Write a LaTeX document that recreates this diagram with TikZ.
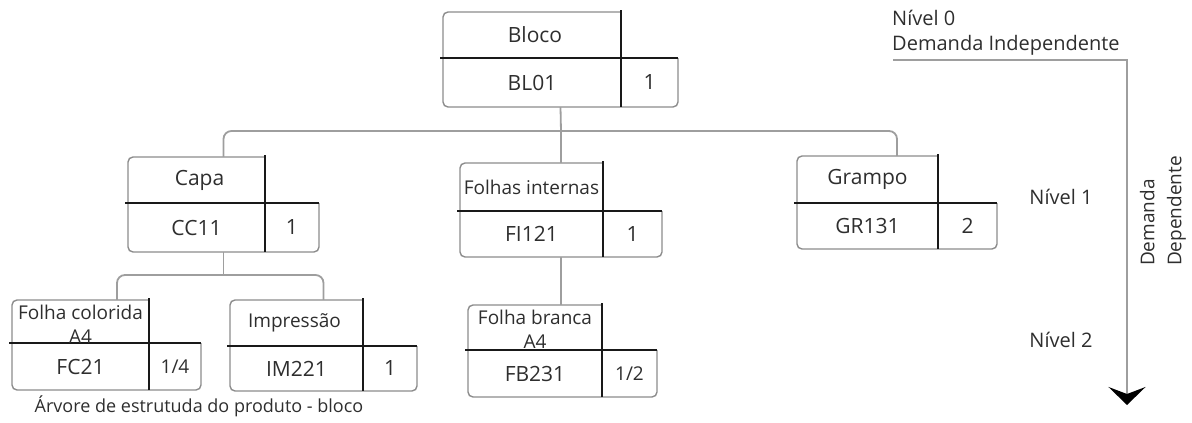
\documentclass[tikz,border=0pt]{standalone}
\usepackage{fontspec}
\setmainfont{Open Sans}
\usetikzlibrary{arrows.meta}

\tikzset{
  outline/.style={draw=black!45, line width=1.4pt, rounded corners=5pt},
  divider/.style={draw=black!90, line width=1.2pt},
  link/.style={draw=black!38, line width=1.8pt, rounded corners=8pt},
  txt/.style={font=\fontsize{21}{25}\selectfont, inner sep=0pt, text=black!82, align=center},
  longtxt/.style={txt, font=\fontsize{19}{24}\selectfont},
  sidetxt/.style={txt, font=\fontsize{20}{27}\selectfont},
}

% One item of the product tree: a rounded frame whose left column holds
% the description (top) and the code (bottom); the quantity cell sits at
% the bottom right.  Arguments: name, x0, y0, x of the divider, y of the
% divider, x1, y1.
\newcommand\bomframe[7]{%
  \path[outline] (#4,#3) -- (#2,#3) -- (#2,#7) -- (#6,#7) -- (#6,#5);
  \draw[divider] (#4,#3-2) -- (#4,#7);
  \draw[divider] (#2-3,#5) -- (#6,#5);
  \node[inner sep=0pt, minimum width={(#6-#2)*1pt}, minimum height={(#7-#3)*1pt}]
    (#1) at ({(#2+#6)/2},{(#3+#7)/2}) {};
  \coordinate (#1-l) at ({(#2+#4)/2},{(#3+#5)/2});
  \coordinate (#1-c) at ({(#2+#4)/2},{(#5+#7)/2});
  \coordinate (#1-q) at ({(#4+#6)/2},{(#5+#7)/2});
}

\begin{document}
\begin{tikzpicture}[x=1pt, y=-1pt]
  \useasboundingbox (0,0) rectangle (1192,423);

  % level 0
  \bomframe{bl}{443}{12}{621}{58}{678}{107}
  \node[txt] (bl-label) at ([xshift=3pt]bl-l) {Bloco};
  \node[txt] (bl-code)  at (bl-c) {BL01};
  \node[txt] (bl-qty)   at (bl-q) {1};

  % level 1
  \bomframe{cc}{128}{157}{265}{203}{319}{252}
  \node[txt] (cc-label) at ([xshift=3pt]cc-l) {Capa};
  \node[txt] (cc-code)  at (cc-c) {CC11};
  \node[txt] (cc-qty)   at (cc-q) {1};

  \bomframe{fi}{460}{163}{603}{211}{662}{257}
  \node[longtxt] (fi-label) at (fi-l) {Folhas internas};
  \node[txt] (fi-code)  at (fi-c) {FI121};
  \node[txt] (fi-qty)   at (fi-q) {1};

  \bomframe{gr}{797}{156}{938}{203}{997}{249}
  \node[txt] (gr-label) at (gr-l) {Grampo};
  \node[txt] (gr-code)  at (gr-c) {GR131};
  \node[txt] (gr-qty)   at (gr-q) {2};

  % level 2
  \bomframe{fc}{12}{300}{149}{343}{201}{390}
  \node[longtxt] (fc-label) at ([yshift=-3pt]fc-l) {Folha colorida\\A4};
  \node[txt] (fc-code)  at (fc-c) {FC21};
  \node[longtxt] (fc-qty)   at (fc-q) {1/4};

  \bomframe{im}{230}{300}{363}{346}{417}{391}
  \node[longtxt] (im-label) at ([xshift=-2pt]im-l) {Impressão};
  \node[txt] (im-code)  at (im-c) {IM221};
  \node[txt] (im-qty)   at (im-q) {1};

  \bomframe{fb}{468}{305}{602}{350}{657}{397}
  \node[longtxt] (fb-label) at ([yshift=-2pt]fb-l) {Folha branca\\A4};
  \node[txt] (fb-code)  at (fb-c) {FB231};
  \node[longtxt] (fb-qty)   at (fb-q) {1/2};

  % tree links
  \coordinate (bus1) at (561,131);
  \coordinate (bus2) at (223,275);
  \draw[link] (bl.south) -- (bus1) -- (fi.north);
  \draw[link] (cc.north) -- (cc.north |- bus1) -- (gr.north |- bus1) -- (gr.north);
  \draw[link] (cc.south) -- (cc.south |- bus2);
  \draw[link] ([xshift=10.5pt]fc.north) -- ([xshift=10.5pt]fc.north |- bus2)
              -- (im.north |- bus2) -- (im.north);
  \draw[link] (fi.south) -- (fb.north -| fi.south);

  % caption
  \node[txt, font=\fontsize{18}{22}\selectfont] (caption) at (199,406)
    {Árvore de estrutuda do produto - bloco};

  % levels and demand axis
  \node[sidetxt, anchor=west] (lvl0) at (892,18) {Nível 0};
  \node[sidetxt, anchor=west] (dem0) at (892,45) {Demanda Independente};
  \node[sidetxt] (lvl1) at (1061,197) {Nível 1};
  \node[sidetxt] (lvl2) at (1061,340) {Nível 2};
  \node[sidetxt, rotate=90, align=left, font=\fontsize{19}{27}\selectfont]
    (dem1) at (1163,211) {Demanda\\Dependente};
  \coordinate (ax0) at (893,60);
  \coordinate (ax1) at (1127,60);
  \coordinate (ax2) at (1127,405);
  \draw[draw=black!38, line width=1.6pt,
        -{Stealth[black, length=18pt, width=37pt, inset=7pt]}]
    (ax0) -- (ax1) -- (ax2);
\end{tikzpicture}
\end{document}
